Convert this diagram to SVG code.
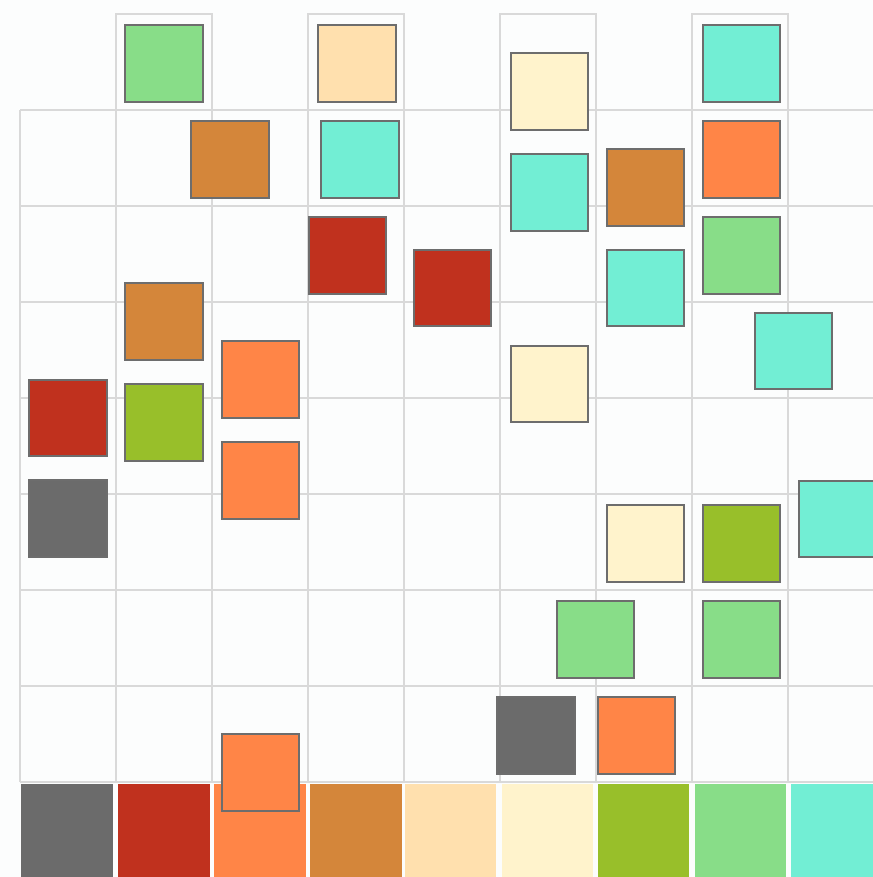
<svg xmlns="http://www.w3.org/2000/svg" width="873" height="877" viewBox="0 0 873 877">
<style>
.g{stroke:#d9d9d9;stroke-width:2;fill:none}
.s{stroke:#6d6d6d;stroke-width:2}
.gray{fill:#6b6b6b}.red{fill:#c0311e}.org{fill:#ff8547}.brn{fill:#d4863a}.pch{fill:#ffe0ae}.crm{fill:#fff3cc}.olv{fill:#98bf2a}.grn{fill:#88dd88}.trq{fill:#72eed4}
</style>
<rect width="873" height="877" fill="#fcfdfd"/>
<g id="grid" class="g">
<rect x="116" y="14" width="96" height="96"/>
<rect x="308" y="14" width="96" height="96"/>
<rect x="500" y="14" width="96" height="96"/>
<rect x="692" y="14" width="96" height="96"/>
<path d="M20 110H873M20 206H873M20 302H873M20 398H873M20 494H873M20 590H873M20 686H873M20 782H873"/>
<path d="M20 110V782M116 110V782M212 110V782M308 110V782M404 110V782M500 110V782M596 110V782M692 110V782M788 110V782"/>
</g>
<g id="palette">
<rect class="gray" x="21" y="784" width="92" height="93"/>
<rect class="red" x="118" y="784" width="92" height="93"/>
<rect class="org" x="214" y="784" width="92" height="93"/>
<rect class="brn" x="310" y="784" width="92" height="93"/>
<rect class="pch" x="405" y="784" width="91" height="93"/>
<rect class="crm" x="502" y="784" width="91" height="93"/>
<rect class="olv" x="598" y="784" width="91" height="93"/>
<rect class="grn" x="695" y="784" width="91" height="93"/>
<rect class="trq" x="791" y="784" width="82" height="93"/>
</g>
<g id="squares" class="s">
<rect class="grn" x="125" y="25" width="78" height="77"/>
<rect class="pch" x="318" y="25" width="78" height="77"/>
<rect class="crm" x="511" y="53" width="77" height="77"/>
<rect class="trq" x="703" y="25" width="77" height="77"/>
<rect class="brn" x="191" y="121" width="78" height="77"/>
<rect class="trq" x="321" y="121" width="78" height="77"/>
<rect class="trq" x="511" y="154" width="77" height="77"/>
<rect class="brn" x="607" y="149" width="77" height="77"/>
<rect class="org" x="703" y="121" width="77" height="77"/>
<rect class="red" x="309" y="217" width="77" height="77"/>
<rect class="red" x="414" y="250" width="77" height="76"/>
<rect class="trq" x="607" y="250" width="77" height="76"/>
<rect class="grn" x="703" y="217" width="77" height="77"/>
<rect class="brn" x="125" y="283" width="78" height="77"/>
<rect class="trq" x="755" y="313" width="77" height="76"/>
<rect class="org" x="222" y="341" width="77" height="77"/>
<rect class="crm" x="511" y="346" width="77" height="76"/>
<rect class="red" x="29" y="380" width="78" height="76"/>
<rect class="olv" x="125" y="384" width="78" height="77"/>
<rect class="org" x="222" y="442" width="77" height="77"/>
<rect class="gray" x="29" y="480" width="78" height="77"/>
<rect class="crm" x="607" y="505" width="77" height="77"/>
<rect class="olv" x="703" y="505" width="77" height="77"/>
<rect class="trq" x="799" y="481" width="78" height="76"/>
<rect class="grn" x="557" y="601" width="77" height="77"/>
<rect class="grn" x="703" y="601" width="77" height="77"/>
<rect class="gray" x="497" y="697" width="78" height="77"/>
<rect class="org" x="598" y="697" width="77" height="77"/>
<rect class="org" x="222" y="734" width="77" height="77"/>
</g>
</svg>
